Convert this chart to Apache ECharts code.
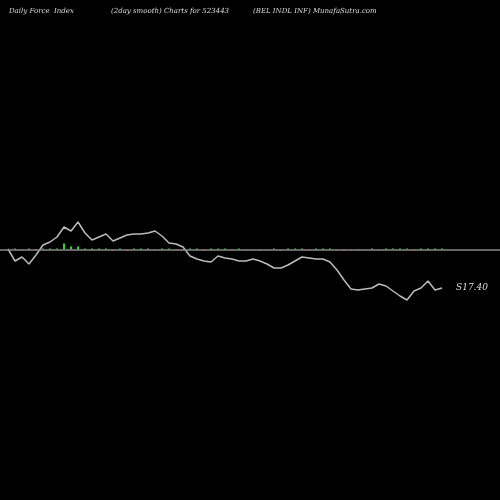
<!DOCTYPE html>
<html><head><meta charset="utf-8">
<script src="https://cdn.jsdelivr.net/npm/echarts@6/dist/echarts.min.js"></script>
<style>html,body{margin:0;background:#000}#c{width:500px;height:500px}</style>
</head><body><div id="c"></div>
<script>
// smoothed force index
const forceLine = [0.5,-11.5,-7.5,-14.5,-5.5,4.5,7.5,12.5,22.5,18.5,27.5,16.5,9.5,12.5,15.5,8.5,11.5,14.5,15.5,15.5,16.5,18.5,13.5,6.5,5.5,2.5,-6.5,-9.5,-11.5,-12.5,-6.5,-8.5,-9.5,-11.5,-11.5,-9.5,-11.5,-14.5,-18.5,-18.5,-15.5,-11.5,-7.5,-8.5,-9.5,-9.5,-12.5,-20.5,-30.5,-39.5,-40.5,-39.5,-38.5,-34.5,-36.5,-41.5,-46.5,-50.5,-41.5,-38.5,-31.5,-40.5,-38.5];
// raw daily force bars (tiny around zero)
const forceBars = [-1,1,-1,1,-1,1,1,1,6,3,3,1,1,1,1,-1,1,-1,1,1,1,-1,1,1,-1,-1,1,1,-1,1,1,1,-1,1,-1,-1,-1,-1,1,-1,1,1,1,-1,1,1,1,-1,-1,-1,-1,-1,1,-1,1,1,1,1,-1,1,1,1,1];
const lastLabel = 'S17.40';

const chart = echarts.init(document.getElementById('c'));
const txt = {color:'#ddd', fontFamily:'DejaVu Serif', fontStyle:'italic', fontWeight:'normal', fontSize:7};
chart.setOption({
  backgroundColor:'#000',
  animation:false,
  title:[
    {text:'Daily Force  Index', left:4, top:3, textStyle:txt},
    {text:'(2day smooth) Charts for 523443', left:106, top:3, textStyle:txt},
    {text:'(BEL INDL INF) MunafaSutra.com', left:248, top:3, textStyle:txt}
  ],
  grid:{left:0, right:0, top:189.5, bottom:190.5},
  xAxis:{type:'value', min:-8/7, max:492/7, show:false},
  yAxis:{type:'value', min:-60, max:60, show:false},
  series:[
    {type:'bar', barWidth:2, data:forceBars.map((v,i)=>({value:[i,v], itemStyle:{color:v>0?'#22dd22':'#dd2222'}}))},
    {type:'line', data:forceLine.map((v,i)=>[i,v]), symbol:'none',
     lineStyle:{color:'#bbb', width:1.5},
     markLine:{silent:true, symbol:'none', label:{show:false},
       lineStyle:{color:'#888', type:'solid', width:1.5}, data:[{yAxis:0}]},
     endLabel:{show:true, formatter:lastLabel, color:'#ddd', fontFamily:'DejaVu Serif', fontStyle:'italic', fontSize:9, offset:[6,0]}}
  ]
});
</script></body></html>
